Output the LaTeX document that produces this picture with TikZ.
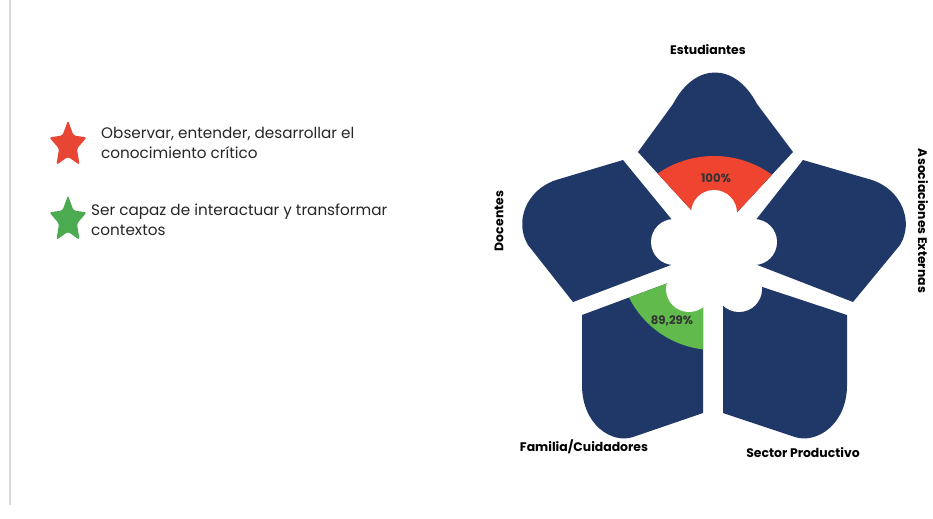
\documentclass[tikz,border=0pt]{standalone}
\usepackage{fontspec}
\setmainfont{Poppins}
\usetikzlibrary{shapes.geometric}
\definecolor{navy}{RGB}{31,56,104}
\definecolor{redfill}{RGB}{238,68,48}
\definecolor{greenfill}{RGB}{96,186,76}
\definecolor{redstar}{RGB}{232,70,52}
\definecolor{greenstar}{RGB}{76,170,80}
\newcommand\petT{(638,152) -- (673,104) .. controls (695,62) and (735,62) .. (757,104) -- (793,152) -- (715,236) -- cycle}
\newcommand\petL{(623,160) -- (556,180) .. controls (526,190) and (514,222) .. (528,245) -- (573,302) -- (700,254) -- cycle}
\newcommand\petR{(803,160) -- (872,180) .. controls (902,190) and (914,222) .. (900,245) -- (853,302) -- (729,254) -- cycle}
\newcommand\petBL{(582,315) -- (703,270) -- (703,413) -- (633,437) .. controls (612,444) and (582,425) .. (582,385) -- cycle}
\newcommand\petBR{(847,315) -- (723,274) -- (723,413) -- (795,437) .. controls (816,444) and (847,425) .. (847,385) -- cycle}
\tikzset{
  petal/.style={fill=navy},
  lab/.style={font=\bfseries\fontsize{10.6}{12}\selectfont, inner sep=0pt},
  pct/.style={font=\bfseries\fontsize{10}{12}\selectfont, text=black!80, inner sep=0pt},
  leg/.style={font=\fontsize{13}{17}\selectfont, align=left, anchor=west, inner sep=0pt, text=black!85},
  legstar/.style={star, star points=5, star point ratio=2.1, rounded corners=2pt, minimum size=1.48cm, inner sep=0pt, transform shape}
}
\begin{document}
\begin{tikzpicture}[x=0.03cm,y=-0.03cm]
\useasboundingbox (0,0) rectangle (933,518);
\fill[white] (0,0) rectangle (933,518);
\draw[black!15, line width=1.5pt] (10,0) -- (10,505);
% petals
\fill[petal] \petT;
\fill[petal] \petL;
\fill[petal] \petR;
\fill[petal] \petBL;
\fill[petal] \petBR;
% coloured sectors
\begin{scope}
  \clip \petT;
  \fill[redfill] (714,255) circle [radius=99];
\end{scope}
\begin{scope}
  \clip \petBL;
  \fill[greenfill] (714,255) circle [radius=95];
\end{scope}
% central blob
\fill[white] (714,255) circle [radius=44]
  (714,213) circle [radius=23]
  (754,242) circle [radius=23]
  (674,242) circle [radius=23]
  (689,289) circle [radius=23]
  (739,289) circle [radius=23];
% labels
\node[pct] (p1) at (716,178) {100\%};
\node[pct] (p2) at (672,321) {89,29\%};
\node[lab] (est) at (708,50) {Estudiantes};
\node[lab, rotate=-90] (aso) at (923,221) {Asociaciones Externas};
\node[lab] (sec) at (803,453) {Sector Productivo};
\node[lab] (fam) at (584,447) {Familia/Cuidadores};
\node[lab, rotate=90] (doc) at (499,221) {Docentes};
% legend
\begin{scope}[shift={(68,145)}, xscale=0.8]
  \node[legstar, fill=redstar] (s1) at (0,0) {};
\end{scope}
\begin{scope}[shift={(68,220)}, xscale=0.8]
  \node[legstar, fill=greenstar] (s2) at (0,0) {};
\end{scope}
\node[leg] (t1) at (101,143) {Observar, entender, desarrollar el\\conocimiento crítico};
\node[leg] (t2) at (91,220) {Ser capaz de interactuar y transformar\\contextos};
\end{tikzpicture}
\end{document}
